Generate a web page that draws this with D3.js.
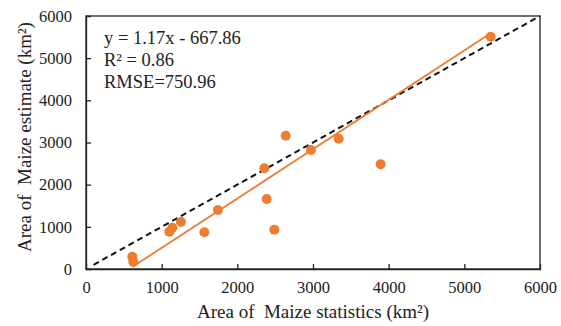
<!DOCTYPE html>
<html><head><meta charset="utf-8">
<script src="https://cdn.jsdelivr.net/npm/d3@7"></script>
<style>body{margin:0;background:#fff}svg{display:block}text{font-family:"Liberation Serif","Times New Roman",serif;fill:#222;white-space:pre}</style>
</head><body><svg id="c" width="561" height="326"></svg>
<script>
const statX = [612, 625, 1101, 1141, 1255, 1564, 1744, 2357, 2388, 2489, 2639, 2973, 3339, 3894, 5348];
const estY  = [292, 173, 885, 980, 1115, 870, 1399, 2388, 1660, 932, 3161, 2822, 3090, 2483, 5509];
const xTicks = [0, 1000, 2000, 3000, 4000, 5000, 6000];
const yTicks = [0, 1000, 2000, 3000, 4000, 5000, 6000];
const fitSlope = 1.17, fitIntercept = -667.86;
const oneToOne = [100, 6000];
const statsText = ["y = 1.17x - 667.86", "R² = 0.86", "RMSE=750.96"];

const svg = d3.select("#c");
const m = {l:86, r:540, t:16, b:269};
const x = d3.scaleLinear().domain([0,6000]).range([m.l, m.r]);
const y = d3.scaleLinear().domain([0,6000]).range([m.b, m.t]);

svg.append("rect").attr("x",m.l).attr("y",m.t).attr("width",m.r-m.l).attr("height",m.b-m.t)
  .attr("fill","none").attr("stroke","#222").attr("stroke-width",1.3);

const xa = svg.append("g").attr("transform",`translate(0,${m.b})`)
  .call(d3.axisBottom(x).tickValues(xTicks).tickSize(-5).tickPadding(12).tickFormat(d3.format("d")));
const ya = svg.append("g").attr("transform",`translate(${m.l},0)`)
  .call(d3.axisLeft(y).tickValues(yTicks).tickSize(-5).tickPadding(14).tickFormat(d3.format("d")));
[xa, ya].forEach(g => {
  g.select(".domain").attr("stroke","#222").attr("stroke-width",1.3);
  g.selectAll(".tick line").attr("stroke","#222").attr("stroke-width",1.3);
  g.selectAll(".tick text").attr("font-size",16.5).attr("fill","#222")
    .attr("font-family","'Liberation Serif',serif");
});
xa.selectAll(".tick").filter(d => d===0 || d===6000).select("line").remove();
ya.selectAll(".tick").filter(d => d===0 || d===6000).select("line").remove();

svg.append("line").attr("x1",x(oneToOne[0])).attr("y1",y(oneToOne[0]))
  .attr("x2",x(oneToOne[1])).attr("y2",y(oneToOne[1]))
  .attr("stroke","#111").attr("stroke-width",2).attr("stroke-dasharray","6,4");

const [xmin,xmax] = d3.extent(statX);
svg.append("line").attr("x1",x(xmin)).attr("y1",y(fitSlope*xmin+fitIntercept))
  .attr("x2",x(xmax)).attr("y2",y(fitSlope*xmax+fitIntercept))
  .attr("stroke","#ED7D31").attr("stroke-width",1.8);

svg.selectAll("circle.p").data(statX.map((v,i)=>[v,estY[i]])).enter().append("circle")
  .attr("cx",d=>x(d[0])).attr("cy",d=>y(d[1])).attr("r",5).attr("fill","#ED7D31");

svg.selectAll("text.s").data(statsText).enter().append("text")
  .attr("x",104).attr("y",(d,i)=>44+i*22).attr("font-size",18.5).text(d=>d);

svg.append("text").attr("x",313).attr("y",318).attr("text-anchor","middle").attr("font-size",19)
  .text("Area of  Maize statistics (km²)");
svg.append("text").attr("transform","translate(31,137) rotate(-90)").attr("text-anchor","middle")
  .attr("font-size",19).text("Area of  Maize estimate (km²)");
</script></body></html>
